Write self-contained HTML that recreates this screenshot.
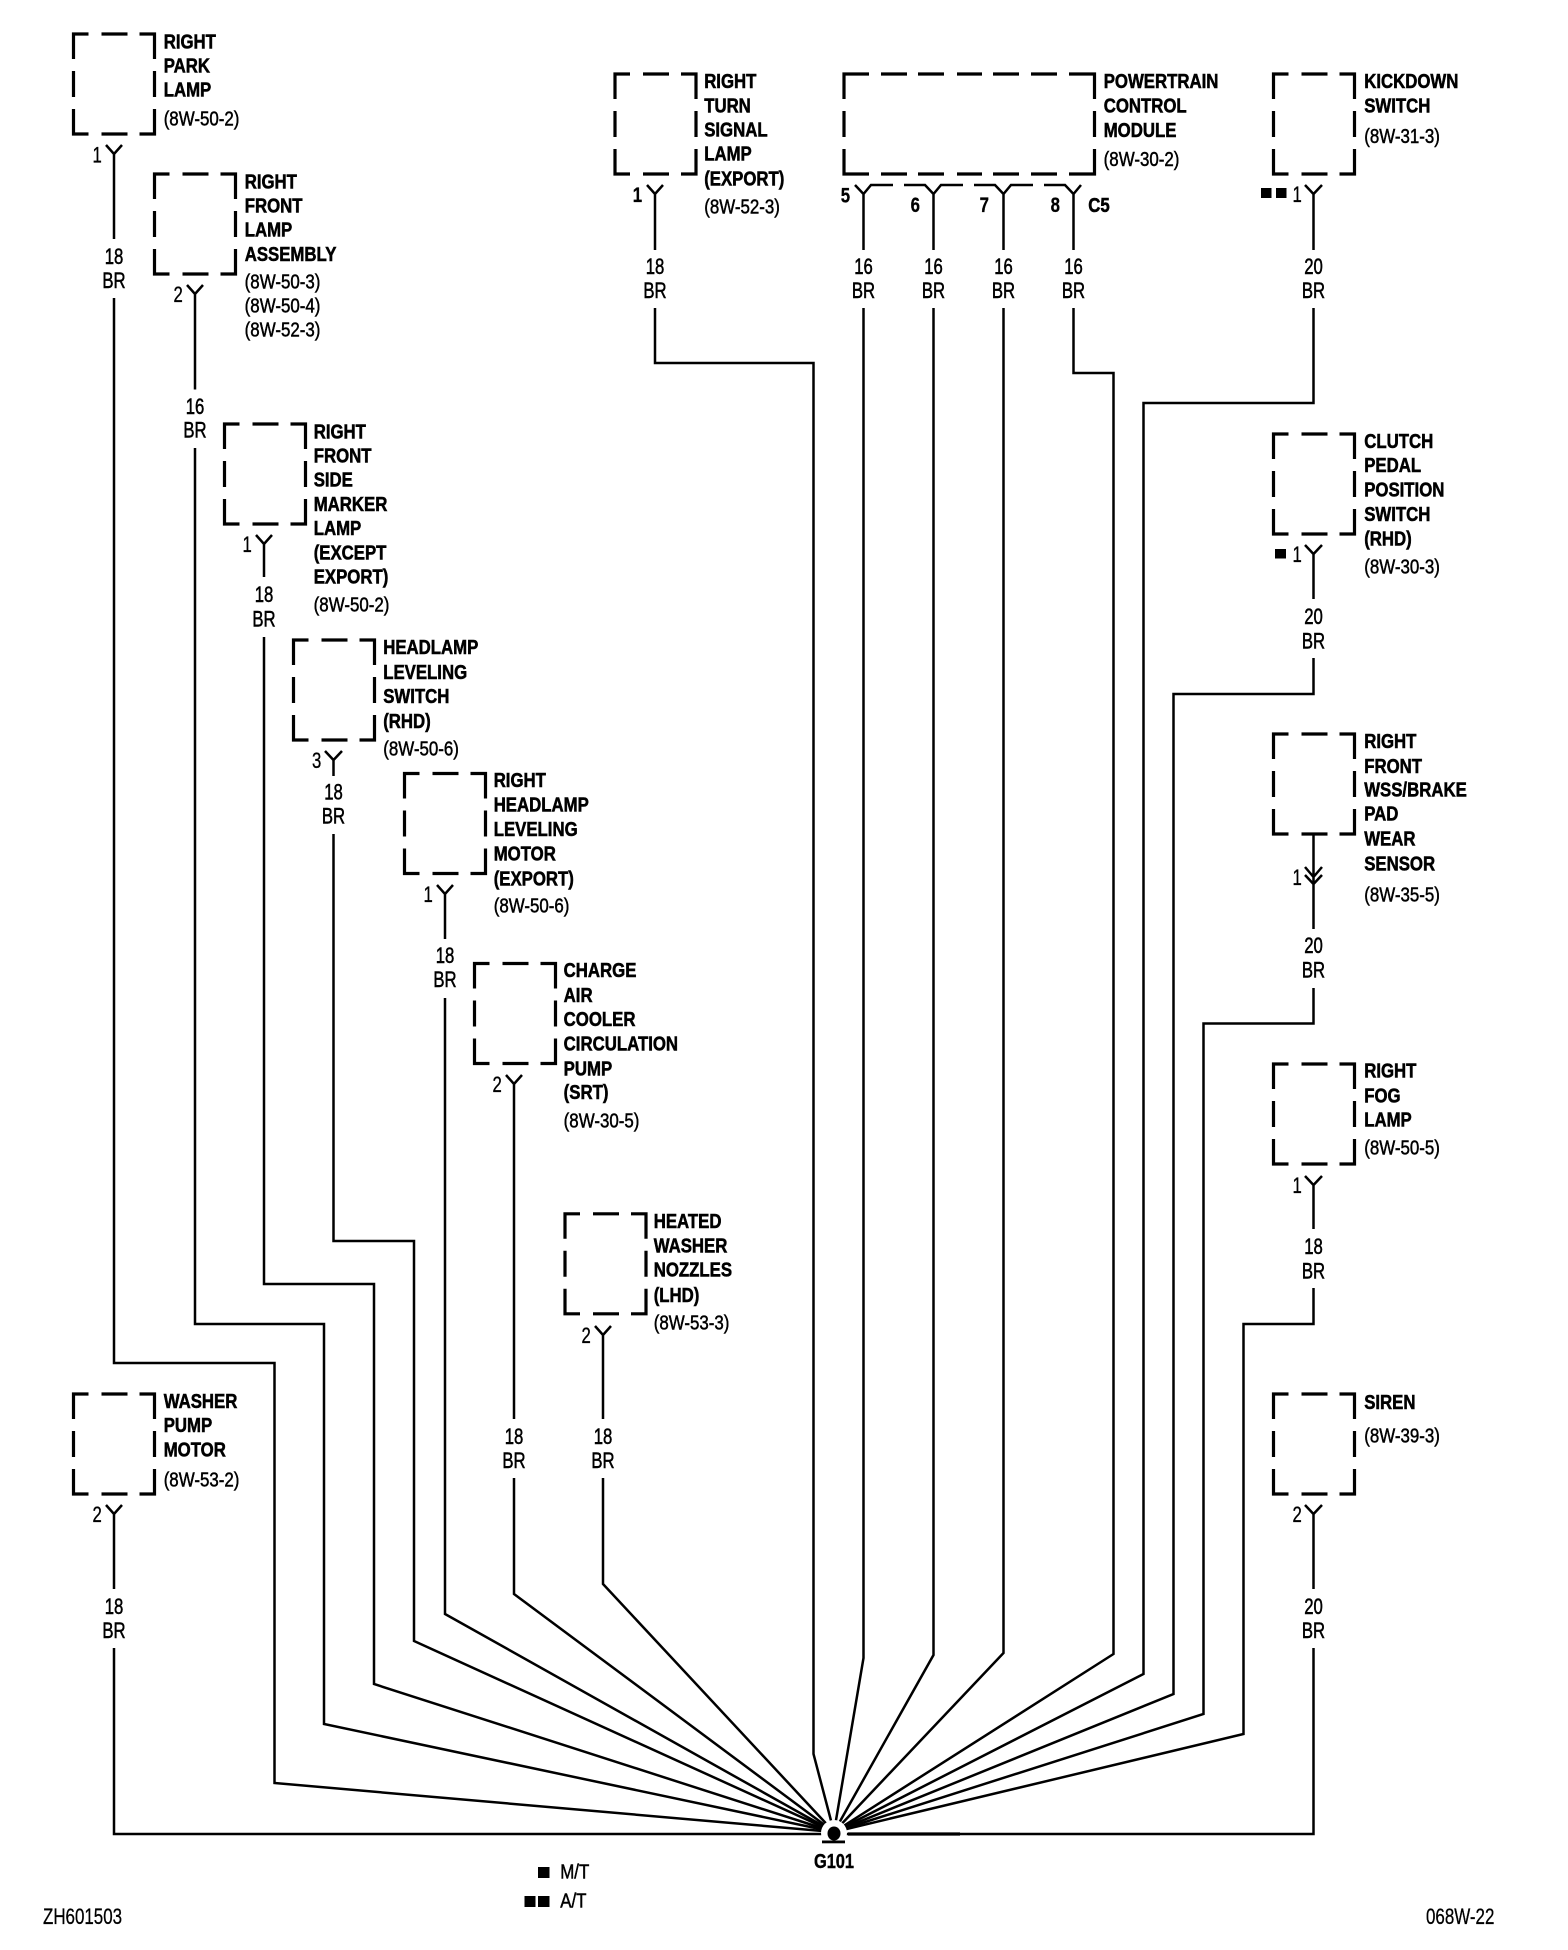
<!DOCTYPE html>
<html><head><meta charset="utf-8"><style>
html,body{margin:0;padding:0;background:#fff}
svg{display:block}
text{font-family:"Liberation Sans",sans-serif;fill:#000;transform-box:fill-box}
.n{font-size:20px;font-weight:bold;stroke:#000;stroke-width:.55px;transform-origin:0 100%;transform:translate(1.2px,-1.2px) scaleX(.84)}
.f{font-size:20px;stroke:#000;stroke-width:.5px;transform-origin:0 100%;transform:translate(1.2px,-.4px) scaleX(.845)}
.l{font-size:22px;stroke:#000;stroke-width:.55px;text-anchor:middle;transform-origin:50% 100%;transform:translateY(-.8px) scaleX(.76)}
.d{font-size:22px;stroke:#000;stroke-width:.35px;text-anchor:end;transform-origin:100% 100%;transform:translateX(.8px) scaleX(.76)}
.db{font-size:21px;font-weight:bold;stroke:#000;stroke-width:.3px;text-anchor:end;transform-origin:100% 100%;transform:scaleX(.8)}
.g{font-size:20px;font-weight:bold;stroke:#000;stroke-width:.4px;text-anchor:middle;transform-origin:50% 100%;transform:scaleX(.82)}
.s{font-size:22px;stroke:#000;stroke-width:.3px;transform-origin:0 100%;transform:scaleX(.77)}
</style></head><body>
<svg xmlns="http://www.w3.org/2000/svg" width="1568" height="1950" viewBox="0 0 1568 1950">
<defs>
<path id="b" fill="none" stroke="#000" stroke-width="3.2" d="M0 25V0H15M28 0H54M66 0H81V25M0 37V63M81 37V63M0 75V100H15M28 100H54M66 100H81V75"/>
</defs>
<g>
<use href="#b" x="73.5" y="34"/>
<use href="#b" x="154.5" y="174"/>
<use href="#b" x="224.5" y="424"/>
<use href="#b" x="293.5" y="640"/>
<use href="#b" x="404.5" y="773.5"/>
<use href="#b" x="474.5" y="963.5"/>
<use href="#b" x="565" y="1213.8"/>
<use href="#b" x="73.5" y="1394"/>
<use href="#b" x="615" y="74"/>
<use href="#b" x="1273.5" y="74"/>
<use href="#b" x="1273.5" y="434"/>
<use href="#b" x="1273.5" y="734"/>
<use href="#b" x="1273.5" y="1064"/>
<use href="#b" x="1273.5" y="1394"/>
<path fill="none" stroke="#000" stroke-width="3.2" d="M844 99V74H869M881 74H907M918 74H944M957 74H982M993 74H1019M1031 74H1057M1069 74H1094.5V99M844 111V137M1094.5 111V137M844 149V174H869M881 174H907M918 174H944M957 174H982M993 174H1019M1031 174H1057M1069 174H1094.5V149"/>
</g>
<g fill="none" stroke="#000" stroke-width="2.5" stroke-linejoin="miter">
<!-- connectors -->
<path d="M106 145L114 154L122 145M114 154V239"/>
<path d="M187 285L195 294L203 285M195 294V389.5"/>
<path d="M256 535L264 544L272 535M264 544V577"/>
<path d="M325 751L333.5 760L342 751M333.5 760V776"/>
<path d="M437 885L445 894L453 885M445 894V939"/>
<path d="M506 1075L514 1084L522 1075M514 1084V1419"/>
<path d="M595 1326L603 1335L611 1326M603 1335V1419"/>
<path d="M106 1505L114 1514L122 1505M114 1514V1589"/>
<path d="M647 185L655 194L663 185M655 194V250"/>
<path d="M855 185L863.5 194L871 185H893M904 185H925L933.5 194L941 185H963M974 185H995L1003.5 194L1011 185H1033M1044 185H1065L1073.5 194L1081 185M863.5 194V250M933.5 194V250M1003.5 194V250M1073.5 194V250"/>
<path d="M1305 185L1313.5 194L1322 185M1313.5 194V250"/>
<path d="M1305 545L1313.5 554L1322 545M1313.5 554V599"/>
<path d="M1313.5 835V884M1305 867L1313.5 877L1322 867M1305 875L1313.5 884L1322 875M1313.5 884V929"/>
<path d="M1305 1176L1313.5 1185L1322 1176M1313.5 1185V1229"/>
<path d="M1305 1505L1313.5 1514L1322 1505M1313.5 1514V1589"/>
<!-- wires -->
<path d="M114 298V1363H274.5V1783L834 1832"/>
<path d="M195 448V1324H324V1724L834 1832"/>
<path d="M264 637V1284H374V1684L834 1832"/>
<path d="M333.5 834V1241H414V1641L834 1832"/>
<path d="M445 998V1614L834 1832"/>
<path d="M514 1478V1594L834 1832"/>
<path d="M603 1478V1584L834 1832"/>
<path d="M114 1648V1834H834"/>
<path d="M655 308V363H813.5V1754L834 1832"/>
<path d="M863.5 308V1658L834 1832"/>
<path d="M933.5 308V1655L834 1832"/>
<path d="M1003.5 308V1653L834 1832"/>
<path d="M1073.5 308V373H1113.5V1654L834 1832"/>
<path d="M1313.5 308V403H1143.5V1674L834 1832"/>
<path d="M1313.5 658V694H1173.5V1694L834 1832"/>
<path d="M1313.5 988V1023.5H1203.5V1714L834 1832"/>
<path d="M1313.5 1288V1324H1243.5V1734L834 1832"/>
<path d="M1313.5 1648V1834H834"/>
<path stroke-width="3.2" d="M848 1834H960"/>
</g>
<!-- ground -->
<circle cx="834" cy="1833" r="13" fill="#fff"/>
<ellipse cx="834" cy="1833.5" rx="6.5" ry="7" fill="#000"/>
<rect x="822" y="1840.5" width="23" height="2.8" fill="#000"/>
<!-- small squares -->
<g fill="#000">
<rect x="1261" y="188" width="10.5" height="10"/><rect x="1276" y="188" width="10.5" height="10"/>
<rect x="1275" y="549" width="11" height="9.5"/>
<rect x="538" y="1867" width="11.5" height="11"/>
<rect x="524.5" y="1896" width="11" height="11"/><rect x="538" y="1896" width="11.5" height="11"/>
</g>
<!-- pin numbers -->
<text class="d" x="101" y="162.5">1</text>
<text class="d" x="182" y="302">2</text>
<text class="d" x="251" y="552">1</text>
<text class="d" x="320.5" y="768">3</text>
<text class="d" x="432" y="902">1</text>
<text class="d" x="501" y="1092">2</text>
<text class="d" x="590" y="1343">2</text>
<text class="d" x="101" y="1522">2</text>
<text class="db" x="642" y="202">1</text>
<text class="db" x="850" y="202.5">5</text>
<text class="db" x="920" y="212">6</text>
<text class="db" x="989" y="212">7</text>
<text class="db" x="1060" y="212">8</text>
<text class="n" x="1087" y="213">C5</text>
<text class="d" x="1301" y="202">1</text>
<text class="d" x="1301" y="562">1</text>
<text class="d" x="1301" y="885">1</text>
<text class="d" x="1301" y="1193">1</text>
<text class="d" x="1301" y="1522">2</text>
<!-- wire labels -->
<text class="l" x="114" y="265">18</text><text class="l" x="114" y="289">BR</text>
<text class="l" x="195" y="415">16</text><text class="l" x="195" y="438.5">BR</text>
<text class="l" x="264" y="603">18</text><text class="l" x="264" y="627.5">BR</text>
<text class="l" x="333.5" y="800.5">18</text><text class="l" x="333.5" y="824.5">BR</text>
<text class="l" x="445" y="964">18</text><text class="l" x="445" y="988">BR</text>
<text class="l" x="514" y="1445">18</text><text class="l" x="514" y="1469">BR</text>
<text class="l" x="603" y="1445">18</text><text class="l" x="603" y="1469">BR</text>
<text class="l" x="114" y="1615">18</text><text class="l" x="114" y="1639">BR</text>
<text class="l" x="655" y="275">18</text><text class="l" x="655" y="299">BR</text>
<text class="l" x="863.5" y="275">16</text><text class="l" x="863.5" y="299">BR</text>
<text class="l" x="933.5" y="275">16</text><text class="l" x="933.5" y="299">BR</text>
<text class="l" x="1003.5" y="275">16</text><text class="l" x="1003.5" y="299">BR</text>
<text class="l" x="1073.5" y="275">16</text><text class="l" x="1073.5" y="299">BR</text>
<text class="l" x="1313.5" y="275">20</text><text class="l" x="1313.5" y="299">BR</text>
<text class="l" x="1313.5" y="625">20</text><text class="l" x="1313.5" y="649.5">BR</text>
<text class="l" x="1313.5" y="954">20</text><text class="l" x="1313.5" y="978.5">BR</text>
<text class="l" x="1313.5" y="1255">18</text><text class="l" x="1313.5" y="1279.5">BR</text>
<text class="l" x="1313.5" y="1615">20</text><text class="l" x="1313.5" y="1639">BR</text>
<!-- component names -->
<text class="n" x="162.5" y="49.5">RIGHT</text><text class="n" x="162.5" y="73.7">PARK</text><text class="n" x="162.5" y="97.7">LAMP</text><text class="f" x="162.5" y="125.7">(8W-50-2)</text>
<text class="n" x="243.5" y="189.5">RIGHT</text><text class="n" x="243.5" y="213.7">FRONT</text><text class="n" x="243.5" y="237.9">LAMP</text><text class="n" x="243.5" y="262">ASSEMBLY</text><text class="f" x="243.5" y="289">(8W-50-3)</text><text class="f" x="243.5" y="313">(8W-50-4)</text><text class="f" x="243.5" y="337">(8W-52-3)</text>
<text class="n" x="312.5" y="439.5">RIGHT</text><text class="n" x="312.5" y="463.7">FRONT</text><text class="n" x="312.5" y="487.9">SIDE</text><text class="n" x="312.5" y="512.1">MARKER</text><text class="n" x="312.5" y="536.3">LAMP</text><text class="n" x="312.5" y="560.5">(EXCEPT</text><text class="n" x="312.5" y="584.7">EXPORT)</text><text class="f" x="312.5" y="612">(8W-50-2)</text>
<text class="n" x="382" y="655">HEADLAMP</text><text class="n" x="382" y="680">LEVELING</text><text class="n" x="382" y="704.3">SWITCH</text><text class="n" x="382" y="729">(RHD)</text><text class="f" x="382" y="756">(8W-50-6)</text>
<text class="n" x="492.5" y="788.3">RIGHT</text><text class="n" x="492.5" y="812.8">HEADLAMP</text><text class="n" x="492.5" y="837">LEVELING</text><text class="n" x="492.5" y="861.7">MOTOR</text><text class="n" x="492.5" y="886.7">(EXPORT)</text><text class="f" x="492.5" y="913">(8W-50-6)</text>
<text class="n" x="562.5" y="978">CHARGE</text><text class="n" x="562.5" y="1003">AIR</text><text class="n" x="562.5" y="1027">COOLER</text><text class="n" x="562.5" y="1051.7">CIRCULATION</text><text class="n" x="562.5" y="1076.7">PUMP</text><text class="n" x="562.5" y="1100">(SRT)</text><text class="f" x="562.5" y="1128">(8W-30-5)</text>
<text class="n" x="652.5" y="1229">HEATED</text><text class="n" x="652.5" y="1253.7">WASHER</text><text class="n" x="652.5" y="1277.5">NOZZLES</text><text class="n" x="652.5" y="1303">(LHD)</text><text class="f" x="652.5" y="1330">(8W-53-3)</text>
<text class="n" x="162.5" y="1409">WASHER</text><text class="n" x="162.5" y="1433">PUMP</text><text class="n" x="162.5" y="1457.7">MOTOR</text><text class="f" x="162.5" y="1486.7">(8W-53-2)</text>
<text class="n" x="703" y="89.3">RIGHT</text><text class="n" x="703" y="113.5">TURN</text><text class="n" x="703" y="137.7">SIGNAL</text><text class="n" x="703" y="161.7">LAMP</text><text class="n" x="703" y="186.7">(EXPORT)</text><text class="f" x="703" y="214">(8W-52-3)</text>
<text class="n" x="1102.5" y="89">POWERTRAIN</text><text class="n" x="1102.5" y="113.5">CONTROL</text><text class="n" x="1102.5" y="138">MODULE</text><text class="f" x="1102.5" y="166.5">(8W-30-2)</text>
<text class="n" x="1363" y="89">KICKDOWN</text><text class="n" x="1363" y="113.5">SWITCH</text><text class="f" x="1363" y="143.6">(8W-31-3)</text>
<text class="n" x="1363" y="449">CLUTCH</text><text class="n" x="1363" y="473">PEDAL</text><text class="n" x="1363" y="497.5">POSITION</text><text class="n" x="1363" y="522">SWITCH</text><text class="n" x="1363" y="546.7">(RHD)</text><text class="f" x="1363" y="574">(8W-30-3)</text>
<text class="n" x="1363" y="749">RIGHT</text><text class="n" x="1363" y="774">FRONT</text><text class="n" x="1363" y="797.5">WSS/BRAKE</text><text class="n" x="1363" y="821.5">PAD</text><text class="n" x="1363" y="846.5">WEAR</text><text class="n" x="1363" y="871.5">SENSOR</text><text class="f" x="1363" y="901.8">(8W-35-5)</text>
<text class="n" x="1363" y="1078.6">RIGHT</text><text class="n" x="1363" y="1103.6">FOG</text><text class="n" x="1363" y="1127.5">LAMP</text><text class="f" x="1363" y="1155">(8W-50-5)</text>
<text class="n" x="1363" y="1410">SIREN</text><text class="f" x="1363" y="1443">(8W-39-3)</text>
<!-- footer -->
<text class="g" x="834" y="1868">G101</text>
<text class="f" x="559" y="1879">M/T</text>
<text class="f" x="559" y="1908">A/T</text>
<text class="s" x="43" y="1924">ZH601503</text>
<text class="s" x="1426" y="1924">068W-22</text>
</svg>
</body></html>
